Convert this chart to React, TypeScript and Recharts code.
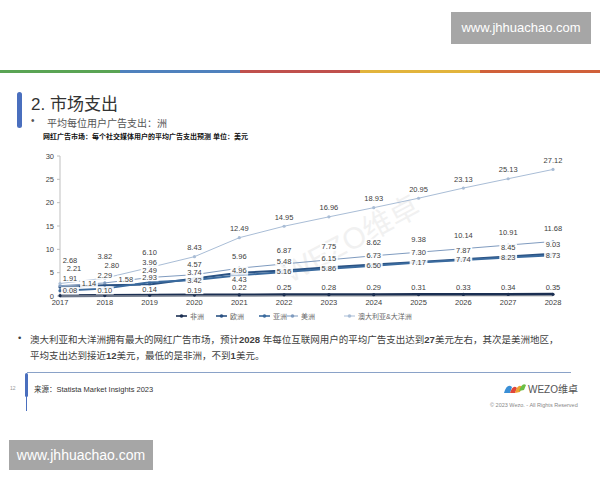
import React from 'react';
import { LineChart, Line, XAxis, YAxis, LabelList } from 'recharts';

const years = ['2017', '2018', '2019', '2020', '2021', '2022', '2023', '2024', '2025', '2026', '2027', '2028'];
const africa = [0.08, 0.1, 0.14, 0.19, 0.22, 0.25, 0.28, 0.29, 0.31, 0.33, 0.34, 0.35];
const europe = [1.91, 2.29, 2.49, 3.74, 4.96, 5.48, 6.15, 6.73, 7.3, 7.87, 8.45, 9.03];
const asia = [1.14, 1.58, 2.93, 3.42, 4.43, 5.16, 5.86, 6.5, 7.17, 7.74, 8.23, 8.73];
const americas = [2.21, 2.8, 3.96, 4.57, 5.96, 6.87, 7.75, 8.62, 9.38, 10.14, 10.91, 11.68];
const oceania = [2.68, 3.82, 6.1, 8.43, 12.49, 14.95, 16.96, 18.93, 20.95, 23.13, 25.13, 27.12];
const yTicks = [0, 5, 10, 15, 20, 25, 30];

const data = years.map((year, i) => ({
    year,
    africa: africa[i],
    europe: europe[i],
    asia: asia[i],
    americas: americas[i],
    oceania: oceania[i],
}));

const FONT = '"Liberation Sans", Arial, "Noto Sans CJK SC", sans-serif';

// style only: colour, width, label offsets (early years are nudged like the original slide)
const series = [
    { key: 'africa', name: '非洲', color: '#1b2f52', width: 3, dy: -7, dyStart: [-5, -5, -6, -5], shift: [10, 0] },
    { key: 'europe', name: '欧洲', color: '#2a5283', width: 2, dy: -9, dyStart: [-9, -10, -14, -6, -2], shift: [10, 0] },
    { key: 'asia', name: '亚洲', color: '#3a6a9e', width: 2, dy: 0, dyStart: [-7, -9, -5, 0, 4], shift: [29, 21] },
    { key: 'americas', name: '美洲', color: '#7f9bbf', width: 1, dy: -13, dyStart: [-17, -17, -15, -10, -12], shift: [14, 7] },
    { key: 'oceania', name: '澳大利亚&大洋洲', color: '#a9bdd6', width: 1, dy: -9, dyStart: [-23, -22, -15, -9], shift: [10, 0] },
];

const legendX = [176, 216, 259, 287, 344];

const makeLabel = (dy: number, dyStart: number[], shift: number[]) => (props: any) => {
    const { x, y, value, index } = props;
    if (value == null) return null;
    const cx = x + (shift[index] ?? 0);
    const cy = y + (dyStart[index] ?? dy);
    const text = Number(value).toFixed(2);
    const w = text.length * 4.2 + 1;
    return (
        <g>
            <rect x={cx - w / 2} y={cy - 4} width={w} height={8} fill="#fff" fillOpacity={0.9} />
            <text x={cx} y={cy} textAnchor="middle" dominantBaseline="central" fontSize={7.5} fill="#404040" fontFamily={FONT}>
                {text}
            </text>
        </g>
    );
};

const abs = (s: React.CSSProperties): React.CSSProperties => ({ position: 'absolute', ...s });

export default function App() {
    return (
        <div style={abs({ left: 0, top: 0, width: 600, height: 480, background: '#fff', overflow: 'hidden', fontFamily: FONT })}>
            {/* top watermark */}
            <div style={abs({ left: 451, top: 12, width: 140, height: 32, background: '#a6a6a6', color: '#fff', fontSize: 13, lineHeight: '32px', textAlign: 'center' })}>
                www.jhhuachao.com
            </div>
            {/* colour bar */}
            {['#5aa454', '#4f81bd', '#c0504d', '#e2b43c', '#d0603a'].map((c, i) => (
                <div key={c + i} style={abs({ left: i * 120, top: 70, width: 120, height: 3, background: c })} />
            ))}
            <div style={abs({ left: 17, top: 92, width: 5, height: 36, borderRadius: 3, background: '#4a6fbe' })} />
            <div style={abs({ left: 31, top: 90, fontSize: 17, color: '#333', whiteSpace: 'nowrap' })}>2. 市场支出</div>
            <div style={abs({ left: 31, top: 115, fontSize: 10, color: '#555', whiteSpace: 'nowrap' })}>•</div>
            <div style={abs({ left: 47, top: 115, fontSize: 10, color: '#555', whiteSpace: 'nowrap' })}>平均每位用户广告支出：洲</div>
            <div style={abs({ left: 43, top: 131, fontSize: 7, fontWeight: 'bold', color: '#111', whiteSpace: 'nowrap' })}>
                网红广告市场：每个社交媒体用户的平均广告支出预测 单位：美元
            </div>

            {/* faint chart watermark */}
            <div style={abs({ left: 275, top: 215, fontSize: 30, color: '#000', opacity: 0.05, transform: 'rotate(-28deg)', whiteSpace: 'nowrap' })}>
                WEZO维卓
            </div>

            <div style={abs({ left: 0, top: 140 })}>
                <LineChart width={600} height={190} data={data} margin={{ top: 16, right: 47, left: 20, bottom: 20 }}>
                    <XAxis
                        dataKey="year"
                        height={14}
                        interval={0}
                        tickLine={false}
                        tickMargin={0}
                        axisLine={{ stroke: '#bfbfbf' }}
                        tick={{ fontSize: 7.5, fill: '#404040', fontFamily: FONT, dy: -2 }}
                    />
                    <YAxis
                        width={40}
                        domain={[0, 30]}
                        ticks={yTicks}
                        interval={0}
                        tickSize={3}
                        tickMargin={3}
                        axisLine={{ stroke: '#bfbfbf' }}
                        tickLine={{ stroke: '#bfbfbf' }}
                        tick={{ fontSize: 7.5, fill: '#404040', fontFamily: FONT }}
                    />
                    {series.map((s) => (
                        <Line
                            key={s.key}
                            dataKey={s.key}
                            name={s.name}
                            stroke={s.color}
                            strokeWidth={s.width}
                            dot={{ r: 1.6, fill: s.color, stroke: s.color, strokeWidth: 0 }}
                            isAnimationActive={false}
                        />
                    ))}
                    {/* labels drawn on top of all lines */}
                    {series.map((s) => (
                        <Line
                            key={s.key + '-lbl'}
                            dataKey={s.key}
                            stroke="none"
                            dot={false}
                            activeDot={false}
                            legendType="none"
                            isAnimationActive={false}
                        >
                            <LabelList dataKey={s.key} content={makeLabel(s.dy, s.dyStart, s.shift)} />
                        </Line>
                    ))}
                </LineChart>
            </div>

            {/* legend */}
            {series.map((s, i) => (
                <div key={s.key + '-leg'} style={abs({ left: legendX[i], top: 311, height: 10, display: 'flex', alignItems: 'center', whiteSpace: 'nowrap' })}>
                    <svg width={11} height={6}>
                        <line x1={0} y1={3} x2={11} y2={3} stroke={s.color} strokeWidth={s.width > 1 ? 1.6 : 1} />
                        <circle cx={5.5} cy={3} r={1.8} fill={s.color} />
                    </svg>
                    <span style={{ fontSize: 7, color: '#666', marginLeft: 3 }}>{s.name}</span>
                </div>
            ))}

            {/* bottom bullets */}
            <div style={abs({ left: 18, top: 332, fontSize: 9.5, color: '#404040' })}>•</div>
            <div style={abs({ left: 30, top: 332, fontSize: 9.5, color: '#404040', lineHeight: '16px', width: 530 })}>
                澳大利亚和大洋洲拥有最大的网红广告市场，预计<b>2028</b> 年每位互联网用户的平均广告支出达到<b>27</b>美元左右，其次是美洲地区，
                <br />
                平均支出达到接近<b>12</b>美元，最低的是非洲，不到<b>1</b>美元。
            </div>

            {/* footer */}
            <div style={abs({ left: 27, top: 372, width: 544, height: 1, background: '#8aa2c8' })} />
            <div style={abs({ left: 25, top: 373, width: 3, height: 24, borderRadius: 2, background: '#4a6fbe' })} />
            <div style={abs({ left: 26, top: 395, width: 1, height: 16, background: '#4a6fbe' })} />
            <div style={abs({ left: 10, top: 385, fontSize: 5, color: '#999' })}>12</div>
            <div style={abs({ left: 34, top: 383, fontSize: 7.5, color: '#333', whiteSpace: 'nowrap' })}>来源：Statista Market Insights 2023</div>
            <svg style={abs({ left: 503, top: 381 })} width={24} height={14}>
                <path d="M1 12 Q4 2 9 6 L7 12 Z" fill="#3a8fd6" />
                <path d="M7 12 Q10 3 14 7 L12 12 Z" fill="#e0463a" />
                <path d="M12 12 Q15 2 19 6 L17 11 Z" fill="#f0a030" />
                <path d="M16 10 Q19 1 23 4 L21 9 Z" fill="#6cbf45" />
            </svg>
            <div style={abs({ left: 528, top: 381, fontSize: 10, color: '#555', whiteSpace: 'nowrap' })}>WEZO维卓</div>
            <div style={abs({ left: 490, top: 402, fontSize: 5.5, color: '#888', whiteSpace: 'nowrap' })}>© 2023 Wezo. - All Rights Reserved</div>

            {/* bottom watermark */}
            <div style={abs({ left: 9, top: 440, width: 144, height: 30, background: '#a6a6a6', color: '#fff', fontSize: 14, lineHeight: '30px', textAlign: 'center' })}>
                www.jhhuachao.com
            </div>
        </div>
    );
}
